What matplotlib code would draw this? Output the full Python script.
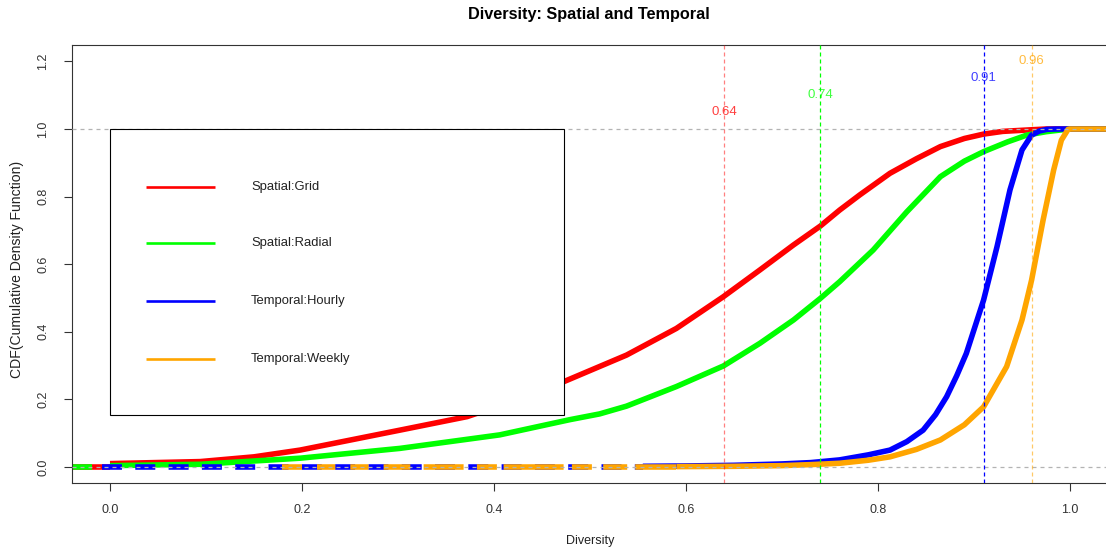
import matplotlib
matplotlib.use("Agg")
import matplotlib.pyplot as plt
from matplotlib.patches import Rectangle

plt.rcParams['font.family'] = ['Liberation Sans', 'DejaVu Sans']
plt.rcParams['lines.scale_dashes'] = False

# ECDF values of the four diversity measures
grid_x = [0.0, 0.094, 0.15, 0.198, 0.302, 0.372, 0.42, 0.469, 0.538, 0.59,
          0.639, 0.677, 0.712, 0.74, 0.76, 0.781, 0.8125, 0.84, 0.865, 0.89,
          0.91, 0.93, 0.955, 0.975, 1.0]
grid_cdf = [0.010, 0.016, 0.030, 0.050, 0.109, 0.149, 0.195, 0.248, 0.331,
            0.410, 0.504, 0.583, 0.657, 0.713, 0.760, 0.805, 0.869, 0.912,
            0.948, 0.972, 0.985, 0.993, 0.997, 1.0, 1.0]

radial_x = [0.0, 0.094, 0.198, 0.302, 0.406, 0.479, 0.51, 0.538, 0.59, 0.639,
            0.677, 0.712, 0.74, 0.76, 0.795, 0.83, 0.865, 0.89, 0.91, 0.935,
            0.955, 0.975, 0.99, 1.0]
radial_cdf = [0.004, 0.008, 0.026, 0.055, 0.095, 0.14, 0.157, 0.18, 0.238,
              0.299, 0.366, 0.435, 0.499, 0.548, 0.642, 0.755, 0.859, 0.905,
              0.933, 0.962, 0.982, 0.992, 0.997, 1.0]

hourly_x = [0.555, 0.6, 0.65, 0.7, 0.73, 0.76, 0.79, 0.8125, 0.83, 0.847,
            0.86, 0.8715, 0.882, 0.892, 0.91, 0.924, 0.9375, 0.95, 0.96,
            0.968, 0.976, 0.985, 1.0]
hourly_cdf = [0.002, 0.003, 0.005, 0.009, 0.013, 0.021, 0.036, 0.050, 0.075,
              0.109, 0.155, 0.208, 0.27, 0.336, 0.494, 0.652, 0.820, 0.938,
              0.982, 0.994, 0.999, 1.0, 1.0]

weekly_x = [0.59, 0.65, 0.7, 0.73, 0.76, 0.79, 0.8125, 0.84, 0.865, 0.89,
            0.91, 0.934, 0.95, 0.96, 0.972, 0.983, 0.991, 0.998, 1.0]
weekly_cdf = [0.001, 0.002, 0.004, 0.007, 0.011, 0.020, 0.030, 0.052, 0.080,
              0.125, 0.178, 0.297, 0.435, 0.553, 0.731, 0.879, 0.967, 0.999, 1.0]

series_names = ["Spatial:Grid", "Spatial:Radial", "Temporal:Hourly", "Temporal:Weekly"]
series_colors = ["#FF0000", "#00FF00", "#0000FF", "#FFA500"]
medians = [0.64, 0.74, 0.91, 0.96]

xmin, xmax = -0.04, 1.04
ymin, ymax = -0.048, 1.248
PX = 0.72  # points per pixel at 100 dpi

fig = plt.figure(figsize=(11.06, 5.53), dpi=100)
ax = fig.add_axes([71.6 / 1106, (553 - 483.2) / 553, 1036.8 / 1106, 438 / 553])
ax.set_xlim(xmin, xmax)
ax.set_ylim(ymin, ymax)

LW = 4.0
data = [(grid_x, grid_cdf), (radial_x, radial_cdf),
        (hourly_x, hourly_cdf), (weekly_x, weekly_cdf)]

# main curves with flat tails to the right at 1.0
for (xs, ys), col, z in zip(data, series_colors, [2, 2.1, 2.2, 2.3]):
    ax.plot(list(xs) + [xmax], list(ys) + [1.0], color=col, lw=LW,
            solid_capstyle='butt', solid_joinstyle='round', zorder=z)

# left tails at zero
ax.plot([xmin, grid_x[0]], [0, 0], color=series_colors[0], lw=LW,
        solid_capstyle='butt', zorder=2)
ax.plot([xmin, -0.019], [0, 0], color=series_colors[1], lw=LW,
        solid_capstyle='butt', zorder=2.1)
ax.plot([-0.0087, hourly_x[0]], [0, 0], color=series_colors[2], lw=LW,
        linestyle=(0, (20 * PX, 13.3 * PX)), dash_capstyle='butt', zorder=2.2)
weekly_dash = [20, 15, 18.3, 15, 18.3, 15, 26.7, 13.3, 40, 13.3, 20, 6.7,
               60, 8.3, 20, 11.3, 24, 8, 60, 8]
ax.plot([0.1793, weekly_x[0]], [0, 0], color=series_colors[3], lw=LW,
        linestyle=(0, tuple(d * PX for d in weekly_dash)),
        dash_capstyle='butt', zorder=2.3)

# reference levels at 0 and 1
for yv in (0.0, 1.0):
    ax.axhline(yv, color='#B3B3B3', lw=0.9, linestyle=(0, (4 * PX, 4 * PX)),
               zorder=3)

# median markers
line_alpha = [0.5, 1.0, 1.0, 0.6]
for i, (m, col) in enumerate(zip(medians, series_colors)):
    ax.axvline(m, color=col, lw=0.9, alpha=line_alpha[i],
               linestyle=(0, (4 * PX, 3 * PX)), zorder=3)
    ax.text(m, 1.05 + 0.05 * i, f"{m:.2f}", color=col, alpha=0.75,
            ha='center', va='center', fontsize=9.5, zorder=4)

# legend box
ax.add_patch(Rectangle((0.0, 0.154), 0.473, 0.846, facecolor='white',
                       edgecolor='black', lw=0.8, zorder=5))
leg_rows = [0.828, 0.663, 0.491, 0.320]
for name, col, yr in zip(series_names, series_colors, leg_rows):
    ax.plot([0.0375, 0.109], [yr, yr], color=col, lw=1.9,
            solid_capstyle='butt', zorder=6)
    ax.text(0.147, yr, name, color='#222222', fontsize=9.4, ha='left',
            va='center', zorder=6)

# axes styling
ax.set_xticks([0.0, 0.2, 0.4, 0.6, 0.8, 1.0])
ax.set_xticklabels(["0.0", "0.2", "0.4", "0.6", "0.8", "1.0"])
ax.set_yticks([0.0, 0.2, 0.4, 0.6, 0.8, 1.0, 1.2])
ax.set_yticklabels(["0.0", "0.2", "0.4", "0.6", "0.8", "1.0", "1.2"],
                   rotation=90, va='center')
ax.tick_params(axis='x', length=6, width=0.8, pad=9, labelsize=9,
               colors='#333333')
ax.tick_params(axis='y', length=6, width=0.8, pad=10, labelsize=9,
               colors='#333333')
for sp in ax.spines.values():
    sp.set_linewidth(0.8)
    sp.set_color('#333333')

fig.text(0.5 * (71.6 + 1108.4) / 1106, 1 - 541 / 553, "Diversity",
         ha='center', va='center', fontsize=9, color='#222222')
fig.text(17 / 1106, 1 - 269 / 553, "CDF(Cumulative Density Function)",
         rotation=90, ha='center', va='center', fontsize=10.1, color='#222222')
fig.text(589 / 1106, 1 - 15 / 553, "Diversity: Spatial and Temporal",
         ha='center', va='center', fontsize=11.7, fontweight='bold')

fig.savefig("out.png", dpi=100)
